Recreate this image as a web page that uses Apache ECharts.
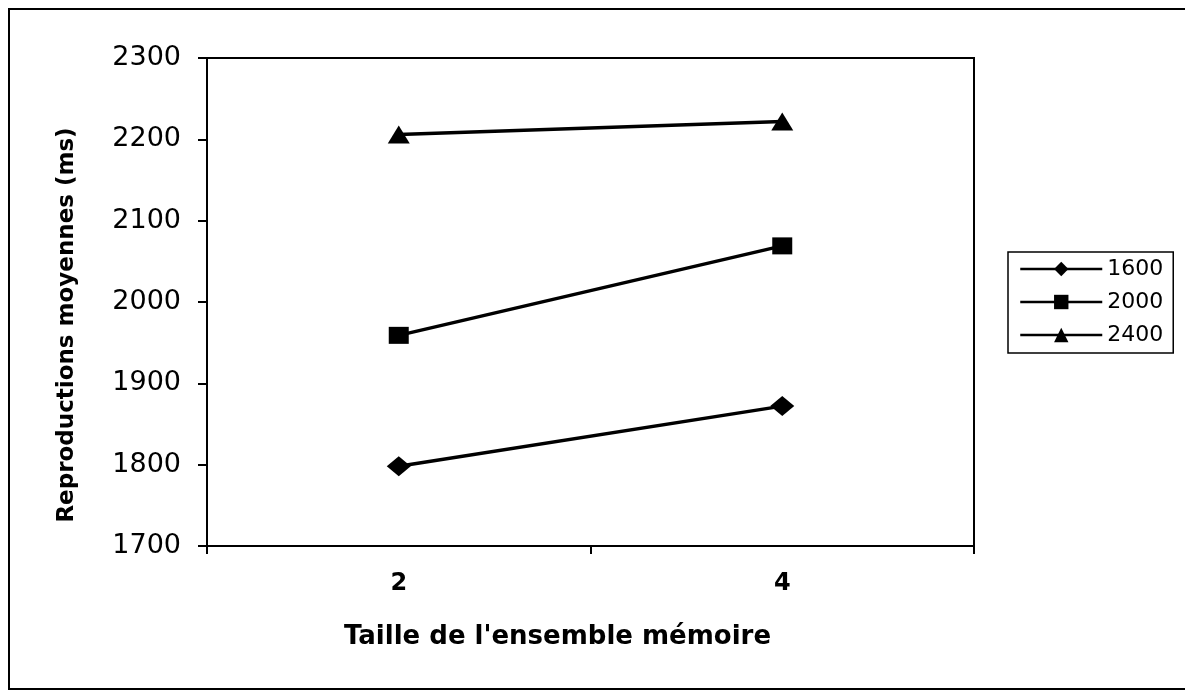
<!DOCTYPE html>
<html>
<head>
<meta charset="utf-8">
<script src="https://cdn.jsdelivr.net/npm/echarts@6/dist/echarts.min.js"></script>
<style>
  html, body { margin: 0; padding: 0; background: #fff; }
  #chart { width: 1185px; height: 691px; }
</style>
</head>
<body>
<div id="chart"></div>
<script>
var dom = document.getElementById("chart");
var myChart = echarts.init(dom);

// valeurs
var tailles = ["2", "4"];
var s1600 = [1798, 1872];
var s2000 = [1959, 2069];
var s2400 = [2206, 2222];
var noms = ["1600", "2000", "2400"];

var police = "DejaVu Sans";

var option = {
  animation: false,
  backgroundColor: "#fff",
  graphic: [{
    type: "rect",
    shape: { x: 9, y: 9, width: 1190, height: 680 },
    style: { fill: "none", stroke: "#000", lineWidth: 2 }
  }],
  grid: {
    left: 207, top: 58, right: 211, bottom: 145,
    show: true, borderColor: "#000", borderWidth: 2
  },
  legend: {
    orient: "vertical",
    left: 1008, top: 252,
    padding: [6, 10, 7, 11],
    borderColor: "#000", borderWidth: 1.5,
    itemWidth: 82, itemHeight: 18, itemGap: 11,
    data: noms,
    lineStyle: { width: 2.5 },
    textStyle: { fontFamily: police, fontSize: 22, color: "#000", lineHeight: 20 }
  },
  xAxis: {
    type: "category",
    data: tailles,
    boundaryGap: true,
    name: "Taille de l'ensemble mémoire",
    nameLocation: "middle",
    nameGap: 78,
    nameTextStyle: { fontFamily: police, fontSize: 26, fontWeight: "bold", color: "#000", padding: [0, 66, 0, 0] },
    axisLine: { lineStyle: { color: "#000", width: 2 } },
    axisTick: { show: true, inside: false, length: 8, lineStyle: { color: "#000", width: 2 } },
    axisLabel: { margin: 26, fontFamily: police, fontSize: 24, fontWeight: "bold", color: "#000" },
    splitLine: { show: false }
  },
  yAxis: {
    type: "value",
    min: 1700, max: 2300, interval: 100,
    name: "Reproductions moyennes (ms)",
    nameLocation: "middle",
    nameGap: 128,
    nameTextStyle: { fontFamily: police, fontSize: 23, fontWeight: "bold", color: "#000", padding: [0, 46, 0, 0] },
    axisLine: { show: true, lineStyle: { color: "#000", width: 2 } },
    axisTick: { show: true, inside: false, length: 9, lineStyle: { color: "#000", width: 2 } },
    axisLabel: {
      margin: 26, fontFamily: police, fontSize: 27, color: "#000",
      formatter: function (v) { return String(v); }
    },
    splitLine: { show: false }
  },
  series: [
    {
      name: noms[0], type: "line", data: s1600,
      symbol: "diamond", symbolSize: [24, 20],
      itemStyle: { color: "#000" }, lineStyle: { color: "#000", width: 3.5 }
    },
    {
      name: noms[1], type: "line", data: s2000,
      symbol: "rect", symbolSize: [20, 17],
      itemStyle: { color: "#000" }, lineStyle: { color: "#000", width: 3.5 }
    },
    {
      name: noms[2], type: "line", data: s2400,
      symbol: "triangle", symbolSize: [22, 18],
      itemStyle: { color: "#000" }, lineStyle: { color: "#000", width: 3.5 }
    }
  ]
};

myChart.setOption(option);
</script>
</body>
</html>
